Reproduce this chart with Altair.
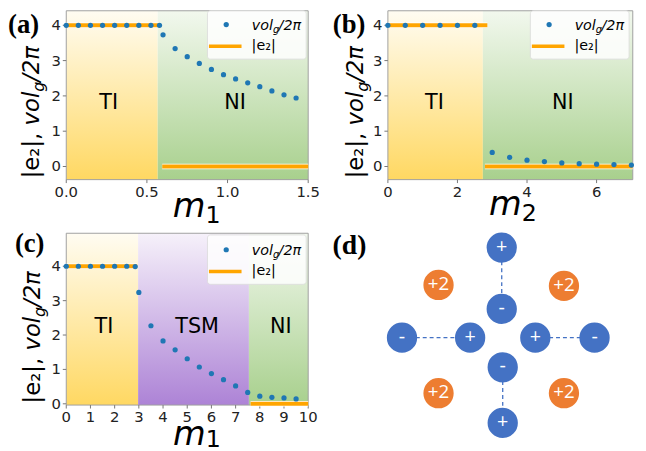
import altair as alt
import pandas as pd

W, H = 638, 443
BLUE = "#1f77b4"
ORANGE = "#ffa500"

# ---------------- panel (a) ----------------
a_vol_x = [0, 0.075, 0.15, 0.225, 0.3, 0.375, 0.45, 0.525, 0.578, 0.6, 0.675, 0.75,
           0.825, 0.9, 0.975, 1.05, 1.125, 1.2, 1.275, 1.35, 1.425]
a_vol_y = [4, 4, 4, 4, 4, 4, 4, 4, 4, 3.73, 3.34, 3.11, 2.92, 2.75, 2.60, 2.48,
           2.37, 2.26, 2.14, 2.03, 1.94]
a_e2_start = [0, 0.595]
a_e2_end = [0.585, 1.5]
a_e2_val = [4, 0]
a_phase = ["TI", "NI"]
a_phase_start = [0, 0.567]
a_phase_end = [0.567, 1.5]
a_label_x = [0.263, 1.047]
a_label_y = [1.81, 1.81]
a_xticks = [0, 0.5, 1.0, 1.5]

# ---------------- panel (b) ----------------
b_vol_x = [0, 0.5, 1, 1.5, 2, 2.5, 3, 3.5, 4, 4.5, 5, 5.5, 6, 6.5, 7]
b_vol_y = [4, 4, 4, 4, 4, 4, 0.40, 0.26, 0.18, 0.14, 0.10, 0.08, 0.065, 0.055, 0.04]
b_e2_start = [0, 2.79]
b_e2_end = [2.86, 7.04]
b_e2_val = [4, 0]
b_phase = ["TI", "NI"]
b_phase_start = [0, 2.73]
b_phase_end = [2.73, 7.04]
b_label_x = [1.34, 5.03]
b_label_y = [1.80, 1.80]
b_xticks = [0, 2, 4, 6]

# ---------------- panel (c) ----------------
c_vol_x = [0, 0.5, 1, 1.5, 2, 2.5, 2.85, 3, 3.5, 4, 4.5, 5, 5.5, 6, 6.5, 7, 7.5,
           8, 8.5, 9, 9.5]
c_vol_y = [4, 4, 4, 4, 4, 4, 3.99, 3.24, 2.27, 1.83, 1.57, 1.31, 1.07, 0.88, 0.70,
           0.52, 0.33, 0.22, 0.19, 0.17, 0.14]
c_e2_start = [0, 7.62]
c_e2_end = [2.93, 10]
c_e2_val = [4, 0]
c_phase = ["TI", "TSM", "NI"]
c_phase_start = [0, 2.97, 7.55]
c_phase_end = [2.97, 7.55, 10]
c_label_x = [1.56, 5.41, 8.87]
c_label_y = [2.23, 2.23, 2.23]
c_xticks = [0, 1, 2, 3, 4, 5, 6, 7, 8, 9, 10]

y_ticks = [0, 1, 2, 3, 4]

# ---------------- panel (d) ----------------
d_blue_x = [0, 0, -10.1, -3.2, 3.4, 9.4, 0.1, 0.1]
d_blue_y = [9.4, 3.0, 0, 0, 0, 0, -3.1, -8.9]
d_blue_sign = ["+", "-", "-", "+", "+", "-", "-", "+"]
d_orange_x = [-6.4, 6.3, -6.4, 6.3]
d_orange_y = [5.5, 5.4, -5.8, -5.8]
d_orange_text = ["+2", "+2", "+2", "+2"]
d_link_from = [0, 2, 4, 6]
d_link_to = [1, 3, 5, 7]


def grad(top, bottom):
    return alt.LinearGradient(
        gradient="linear", x1=0, x2=0, y1=0, y2=1,
        stops=[alt.GradientStop(color=top, offset=0),
               alt.GradientStop(color=bottom, offset=1)])


GRAD = {
    "TI": grad("#fffcf2", "#ffd862"),
    "NI": grad("#f2f8ee", "#a8d08d"),
    "TSM": grad("#f6f1fa", "#ad83d6"),
}

DUMMY = alt.Data(values=[{"k": 0}])
TICK_COLOR = "#777777"
LABEL_COLOR = "#222222"


def panel(vol_x, vol_y, e2s, e2e, e2v, ph, phs, phe, lx, ly,
          xdom, xrng, ydom, yrng, xticks, xfmt):
    xs = alt.Scale(domain=xdom, range=xrng, nice=False, zero=False)
    ys = alt.Scale(domain=ydom, range=yrng, nice=False, zero=False)
    left, bottom = xrng[0], yrng[0]
    ph_df = pd.DataFrame({"phase": ph, "x0": phs, "x1": phe, "lx": lx, "ly": ly})
    vol_df = pd.DataFrame({"x": vol_x, "y": vol_y})
    e2_df = pd.DataFrame({"x0": e2s, "x1": e2e, "y": e2v})
    xt_df = pd.DataFrame({"v": xticks})
    yt_df = pd.DataFrame({"v": y_ticks})
    X = lambda f: alt.X(f, scale=xs, axis=None)
    Y = lambda f: alt.Y(f, scale=ys, axis=None)
    layers = []
    for name in dict.fromkeys(ph):
        layers.append(
            alt.Chart(ph_df).transform_filter(alt.datum.phase == name)
            .mark_rect(fill=GRAD[name])
            .encode(x=X("x0:Q"), x2="x1:Q",
                    y=alt.YDatum(ydom[0], scale=ys, axis=None),
                    y2=alt.Y2Datum(ydom[1])))
    layers.append(
        alt.Chart(DUMMY).mark_rect(fillOpacity=0, stroke="#a0a0a0", strokeWidth=1)
        .encode(x=alt.XDatum(xdom[0], scale=xs, axis=None), x2=alt.X2Datum(xdom[1]),
                y=alt.YDatum(ydom[0], scale=ys, axis=None), y2=alt.Y2Datum(ydom[1])))
    # ticks and tick labels
    layers.append(
        alt.Chart(xt_df).mark_rule(color=TICK_COLOR, strokeWidth=1)
        .encode(x=X("v:Q"), y=alt.value(bottom), y2=alt.value(bottom + 3.5)))
    layers.append(
        alt.Chart(xt_df).mark_text(fontSize=15, font="DejaVu Sans", color=LABEL_COLOR,
                                   baseline="top", align="center")
        .encode(x=X("v:Q"), y=alt.value(bottom + 5.5),
                text=alt.Text("v:Q", format=xfmt)))
    layers.append(
        alt.Chart(yt_df).mark_rule(color=TICK_COLOR, strokeWidth=1)
        .encode(y=Y("v:Q"), x=alt.value(left - 3.5), x2=alt.value(left)))
    layers.append(
        alt.Chart(yt_df).mark_text(fontSize=15, font="DejaVu Sans", color=LABEL_COLOR,
                                   baseline="middle", align="right")
        .encode(y=Y("v:Q"), x=alt.value(left - 5.5),
                text=alt.Text("v:Q", format="d")))
    layers.append(
        alt.Chart(e2_df).mark_rule(color="white", strokeWidth=5.5)
        .encode(x=X("x0:Q"), x2="x1:Q", y=Y("y:Q")))
    layers.append(
        alt.Chart(e2_df).mark_rule(color=ORANGE, strokeWidth=4)
        .encode(x=X("x0:Q"), x2="x1:Q", y=Y("y:Q")))
    layers.append(
        alt.Chart(vol_df).mark_circle(size=28, color=BLUE, opacity=1)
        .encode(x=X("x:Q"), y=Y("y:Q")))
    layers.append(
        alt.Chart(ph_df).mark_text(fontSize=21, font="DejaVu Sans", color="black",
                                   baseline="middle", align="center")
        .encode(x=X("lx:Q"), y=Y("ly:Q"), text="phase:N"))
    return alt.layer(*layers)


def txt(s, x, y, size, **kw):
    kw.setdefault("font", "DejaVu Sans")
    kw.setdefault("baseline", "alphabetic")
    kw.setdefault("color", "black")
    return alt.Chart(DUMMY).mark_text(text=s, fontSize=size, **kw).encode(
        x=alt.value(x), y=alt.value(y))


def legend(dx, dy, top):
    return [
        alt.Chart(DUMMY).mark_rect(fill="white", opacity=0.85, stroke="#dddddd",
                                   strokeWidth=1, cornerRadius=3)
        .encode(x=alt.value(202 + dx), x2=alt.value(302 + dx),
                y=alt.value(top), y2=alt.value(49 + dy)),
        alt.Chart(DUMMY).mark_circle(size=28, color=BLUE, opacity=1)
        .encode(x=alt.value(221 + dx), y=alt.value(14 + dy)),
        alt.Chart(DUMMY).mark_rule(color=ORANGE, strokeWidth=3.5)
        .encode(x=alt.value(203.5 + dx), x2=alt.value(236.5 + dx), y=alt.value(36 + dy)),
        txt("vol", 268.3 + dx, 19 + dy, 14.5, align="right", fontStyle="italic"),
        txt("g", 268.3 + dx, 22.5 + dy, 10, align="left", fontStyle="italic"),
        txt("/2π", 274 + dx, 19 + dy, 14.5, align="left", fontStyle="italic"),
        txt("|e₂|", 246.7 + dx, 40 + dy, 14.5, align="left"),
    ]


def ytitle(bx, p):
    return [
        txt("|e₂|,", bx, p + 41.5, 23, angle=270, align="right"),
        txt("vol", bx, p, 23, angle=270, align="right", fontStyle="italic"),
        txt("g", bx + 5, p, 16, angle=270, align="left", fontStyle="italic"),
        txt("/2π", bx, p - 10, 23, angle=270, align="left", fontStyle="italic"),
    ]


def xtitle(qx, qy, sub, sub_drop=6):
    return [
        txt("m", qx, qy, 34, align="right", fontStyle="italic"),
        txt(sub, qx, qy + sub_drop, 24, align="left"),
    ]


pa = panel(a_vol_x, a_vol_y, a_e2_start, a_e2_end, a_e2_val, a_phase, a_phase_start,
           a_phase_end, a_label_x, a_label_y, [0, 1.5], [59, 304], [-0.372, 4.411],
           [171, 0], a_xticks, ".1f")
pb = panel(b_vol_x, b_vol_y, b_e2_start, b_e2_end, b_e2_val, b_phase, b_phase_start,
           b_phase_end, b_label_x, b_label_y, [0, 7.04], [384.7, 632.7], [-0.372, 4.411],
           [171, 0], b_xticks, "d")
pc = panel(c_vol_x, c_vol_y, c_e2_start, c_e2_end, c_e2_val, c_phase, c_phase_start,
           c_phase_end, c_label_x, c_label_y, [0, 10], [59, 304], [-0.037, 4.96],
           [399.3, 225.3], c_xticks, "d")

# panel (d)
dxs = alt.Scale(domain=[-12, 12], range=[380, 620])
dys = alt.Scale(domain=[-12, 12], range=[447.4, 214.6])
blue_df = pd.DataFrame({"x": d_blue_x, "y": d_blue_y, "s": d_blue_sign})
orange_df = pd.DataFrame({"x": d_orange_x, "y": d_orange_y, "s": d_orange_text})
link_df = pd.DataFrame({
    "x": [d_blue_x[i] for i in d_link_from], "y": [d_blue_y[i] for i in d_link_from],
    "x2": [d_blue_x[i] for i in d_link_to], "y2": [d_blue_y[i] for i in d_link_to]})

DX = lambda f: alt.X(f, scale=dxs, axis=None)
DY = lambda f: alt.Y(f, scale=dys, axis=None)
pd_links = alt.Chart(link_df).mark_rule(color="#4472c4", strokeWidth=1.3,
                                        strokeDash=[4, 3]).encode(
    x=DX("x:Q"), y=DY("y:Q"), x2="x2:Q", y2="y2:Q")
pd_blue = alt.Chart(blue_df).mark_circle(size=940, color="#4472c4", opacity=1).encode(
    x=DX("x:Q"), y=DY("y:Q"))
pd_blue_t = alt.Chart(blue_df).mark_text(color="white", fontSize=20, font="Open Sans",
                                         baseline="middle", dy=-1).encode(
    x=DX("x:Q"), y=DY("y:Q"), text="s:N")
pd_orange = alt.Chart(orange_df).mark_circle(size=940, color="#ed7d31", opacity=1).encode(
    x=DX("x:Q"), y=DY("y:Q"))
pd_orange_t = alt.Chart(orange_df).mark_text(color="white", fontSize=19, font="Open Sans",
                                             baseline="middle", dy=-1).encode(
    x=DX("x:Q"), y=DY("y:Q"), text="s:N")
pdd = alt.layer(pd_links, pd_blue, pd_blue_t, pd_orange, pd_orange_t)

annot = []
annot += legend(0, 0, 0)
annot += legend(327, 0, 0)
annot += legend(0, 228, 227)
annot += ytitle(31.5, 82)
annot += ytitle(360, 82)
annot += ytitle(32, 310)
annot += xtitle(200, 209, "1")
annot += xtitle(520.3, 207, "2")
annot += xtitle(200.3, 440, "1", sub_drop=2)
annot += [
    txt("(a)", 0, 23, 27, font="Liberation Serif", fontWeight="bold", align="left"),
    txt("(b)", 329, 23, 27, font="Liberation Serif", fontWeight="bold", align="left"),
    txt("(c)", 7, 244, 27, font="Liberation Serif", fontWeight="bold", align="left"),
    txt("(d)", 328.7, 246.5, 28, font="Liberation Serif", fontWeight="bold", align="left"),
]

chart = alt.layer(pa, pb, pc, pdd, *annot).resolve_scale(
    x="independent", y="independent").properties(
    width=W, height=H, autosize=alt.AutoSizeParams(type="none"), padding=0
).configure_view(stroke="transparent")

chart.save("out.html", embed_options={"renderer": "svg", "actions": False})
